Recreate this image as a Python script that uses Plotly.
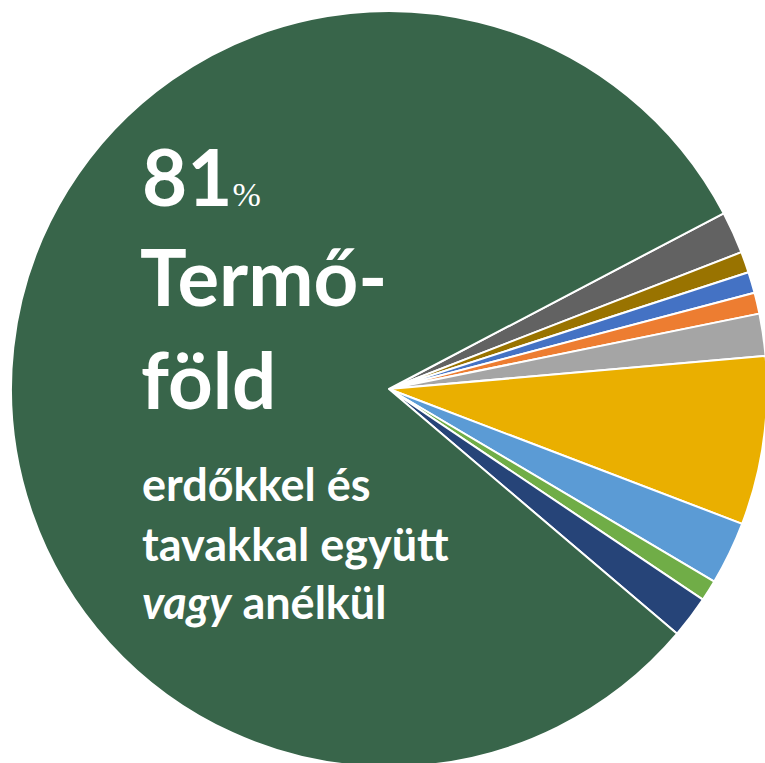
import plotly.graph_objects as go

labels = ["Sötétszürke", "Barna", "Kék", "Narancs", "Világosszürke", "Sárga",
          "Világoskék", "Zöld", "Sötétkék", "Termőföld"]
values = [1.8, 0.9, 0.9, 0.9, 1.8, 7.2, 2.7, 0.9, 1.8, 81.1]
colors = ["#626262", "#997300", "#4472C4", "#ED7D31", "#A5A5A5", "#EAAF00",
          "#5B9BD5", "#70AD47", "#264478", "#38654A"]

W, H = 770, 770

fig = go.Figure(go.Pie(
    labels=labels, values=values, sort=False, direction="clockwise",
    rotation=62.3,
    marker=dict(colors=colors, line=dict(color="white", width=2)),
    textinfo="none", hoverinfo="skip", showlegend=False,
    domain=dict(x=[11 / W, 767 / W], y=[1 - 767 / H, 1 - 11 / H]),
))

font = "Lato, Open Sans, sans-serif"

def ann(text, x, y, size):
    fig.add_annotation(text=text, x=x / W, y=1 - y / H, xref="paper", yref="paper",
                       xanchor="left", yanchor="middle", showarrow=False,
                       font=dict(family=font, size=size, color="white"))

ann("<b>81</b><span style='font-size:34px;font-family:Liberation Serif'>%</span>", 140, 176, 78)
ann("<b>Termő-</b>", 138, 276, 78)
ann("<b>föld</b>", 139, 379, 78)
ann("<b>erdőkkel és</b>", 140, 484, 45)
ann("<b>tavakkal együtt</b>", 140, 544, 45)
ann("<b><i>vagy</i> anélkül</b>", 140, 602, 45)

fig.update_layout(width=W, height=H, autosize=False,
                  margin=dict(l=0, r=0, t=0, b=0), paper_bgcolor="white",
                  plot_bgcolor="white")
fig.write_html("out.html", config={"displayModeBar": False}, post_script=(
    "document.body.style.margin='0';"
    "document.body.style.overflow='hidden';"
    "document.documentElement.style.overflow='hidden';"))
